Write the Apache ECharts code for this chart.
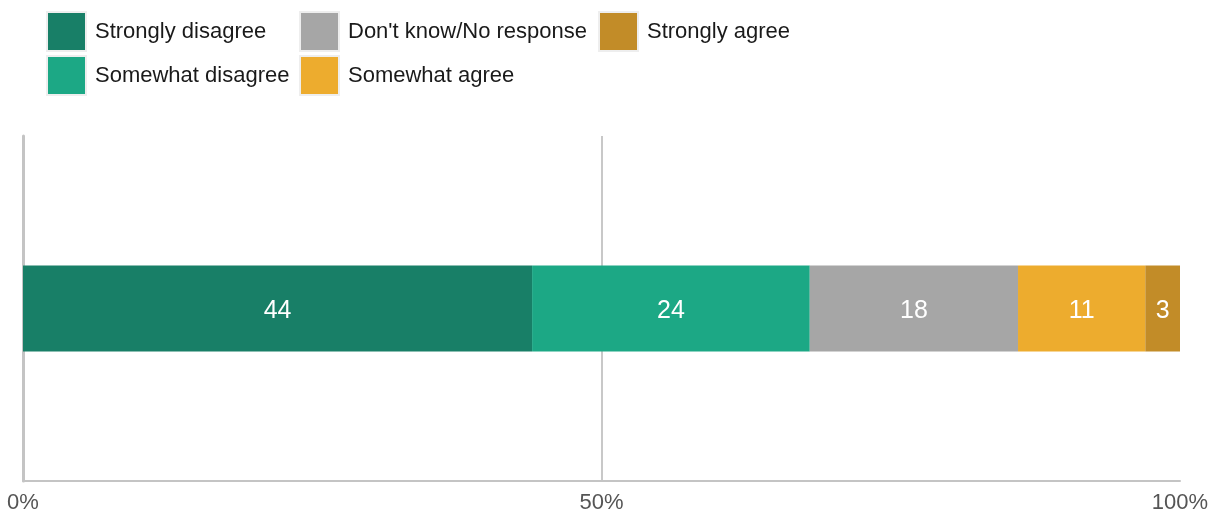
<!DOCTYPE html>
<html><head><meta charset="utf-8">
<script src="https://cdn.jsdelivr.net/npm/echarts@6/dist/echarts.min.js"></script>
<style>html,body{margin:0;padding:0;background:#fff}#c{width:1216px;height:515px}</style>
</head><body><div id="c"></div>
<script>
const categories = ['All'];
const seriesNames = ['Strongly disagree','Somewhat disagree',"Don't know/No response",'Somewhat agree','Strongly agree'];
const strongDisagree = [44];
const somewhatDisagree = [24];
const dontKnow = [18];
const somewhatAgree = [11];
const strongAgree = [3];
const colors = ['#187f67','#1ca885','#a6a6a6','#edac2e','#c28c28'];
const xTicks = [0, 50, 100];

const values = [strongDisagree, somewhatDisagree, dontKnow, somewhatAgree, strongAgree];
const font = 'Arial';
const legendCommon = {
  orient: 'vertical', itemWidth: 39, itemHeight: 39, itemGap: 3, icon: 'rect', padding: 0,
  textStyle: {fontSize: 22, color: '#1a1a1a', fontFamily: font, padding: [0,0,0,4]},
  itemStyle: {borderColor: '#eeeeee', borderWidth: 2}, selectedMode: false
};
const chart = echarts.init(document.getElementById('c'), null, {renderer: 'canvas'});
chart.setOption({
  animation: false,
  color: colors,
  legend: [
    Object.assign({left: 46, top: 11, data: [seriesNames[0], seriesNames[1]]}, legendCommon),
    Object.assign({left: 299, top: 11, data: [seriesNames[2], seriesNames[3]]}, legendCommon),
    Object.assign({left: 598, top: 11, data: [seriesNames[4]]}, legendCommon)
  ],
  grid: {left: 23, right: 36, top: 136, bottom: 34, containLabel: false},
  xAxis: {
    type: 'value', min: 0, max: 100, interval: 50,
    axisLine: {show: true, lineStyle: {color: '#c4c4c4', width: 2}},
    axisTick: {show: false},
    axisLabel: {formatter: v => xTicks.includes(v) ? v + '%' : '', fontSize: 22, color: '#555', fontFamily: font, margin: 11},
    splitLine: {show: true, showMinLine: false, showMaxLine: false, lineStyle: {color: '#c8c8c8', width: 2}}
  },
  yAxis: {
    type: 'category', data: categories,
    axisLine: {show: true, lineStyle: {color: '#c4c4c4', width: 3}},
    axisTick: {show: false}, axisLabel: {show: false}
  },
  series: seriesNames.map((n, i) => ({
    name: n, type: 'bar', stack: 'total', data: values[i], barWidth: 86,
    label: {show: true, position: 'inside', color: '#fff', fontSize: 25, fontFamily: font, offset: [0, 3]},
    itemStyle: {color: colors[i]}
  }))
});
</script></body></html>
